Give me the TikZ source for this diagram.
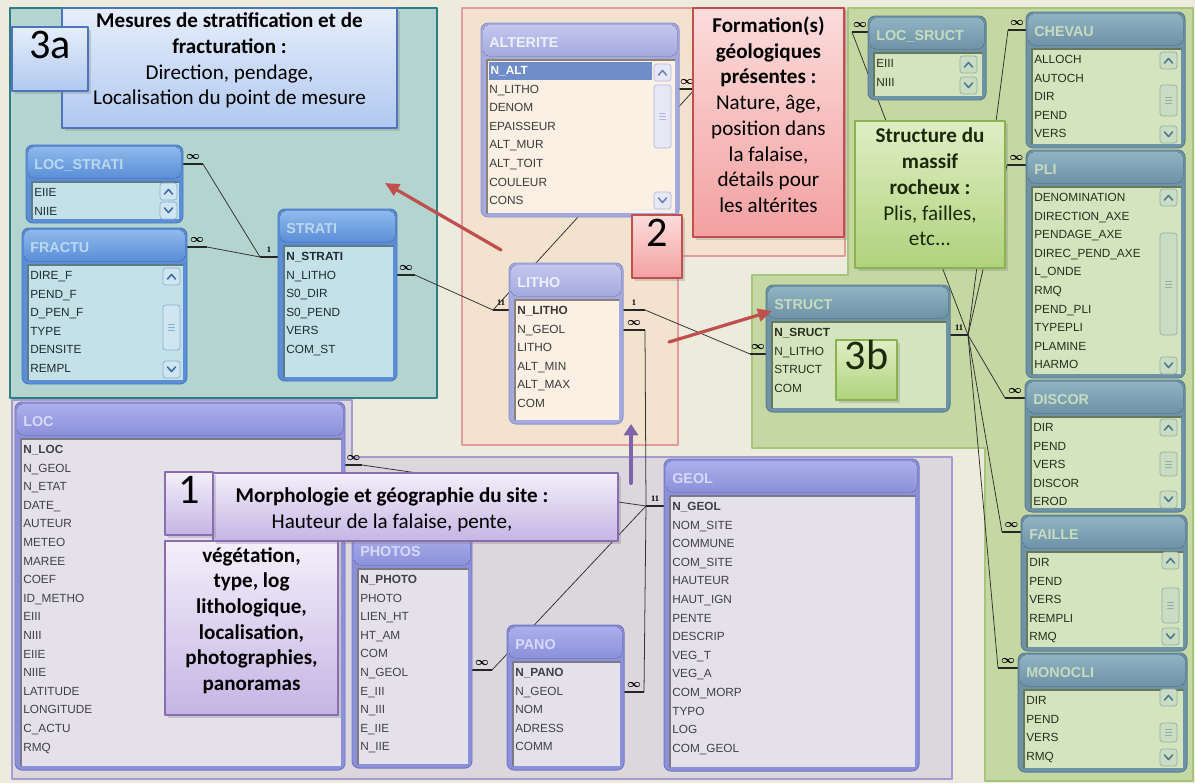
\documentclass[tikz,border=0pt]{standalone}
\usepackage{fontspec}
\setmainfont{Carlito}
\newfontfamily\tabfont{Liberation Sans}
\newfontfamily\lblfont{Liberation Serif}
\usepackage{xcolor}
\usepackage{tikz}
\usetikzlibrary{fit,arrows.meta,shadows}

% zones
\definecolor{bgbeige}{HTML}{EDEBDD}
\definecolor{tlzone}{HTML}{B3D4CF}
\definecolor{tlzoneedge}{HTML}{2E7D87}
\definecolor{pkzone}{HTML}{F2E2CE}
\definecolor{pkzoneedge}{HTML}{E39C9E}
\definecolor{grzone}{HTML}{C5D7A3}
\definecolor{grzoneedge}{HTML}{A5C57A}
\definecolor{puzone}{HTML}{DBD7DC}
\definecolor{puzoneedge}{HTML}{A49CD0}
% tables
\definecolor{tlframe}{HTML}{5B8ED8}
\definecolor{tlhead}{HTML}{8DB9EC}
\definecolor{tledge}{HTML}{4A78BE}
\definecolor{tllist}{HTML}{C3E1E7}
\definecolor{tlinset}{HTML}{5F7C84}
\definecolor{tltitle}{HTML}{BBD9EE}
\definecolor{tltext}{HTML}{1E2C34}
\definecolor{tlbtn}{HTML}{CFE5EF}
\definecolor{tlbtnedge}{HTML}{86B0D6}
\definecolor{tlarrow}{HTML}{3D6CA8}
\definecolor{pkframe}{HTML}{A4A9DE}
\definecolor{pkhead}{HTML}{C3C7EE}
\definecolor{pkedge}{HTML}{8F94CF}
\definecolor{pklist}{HTML}{FCF0E4}
\definecolor{pkinset}{HTML}{8C8275}
\definecolor{pktitle}{HTML}{EEF0FA}
\definecolor{pktext}{HTML}{3A3A3A}
\definecolor{pkbtn}{HTML}{E6E8F5}
\definecolor{pkbtnedge}{HTML}{B3B8DE}
\definecolor{pkarrow}{HTML}{6F7FB8}
\definecolor{pksel}{HTML}{6F8DC8}
\definecolor{grframe}{HTML}{6E93A6}
\definecolor{grhead}{HTML}{8FB3C3}
\definecolor{gredge}{HTML}{5A7E90}
\definecolor{grlist}{HTML}{D4E4BF}
\definecolor{grinset}{HTML}{66795A}
\definecolor{grtitle}{HTML}{C6DCBE}
\definecolor{grtext}{HTML}{26301C}
\definecolor{grbtn}{HTML}{CADDC3}
\definecolor{grbtnedge}{HTML}{8FB0A8}
\definecolor{grarrow}{HTML}{4A7890}
\definecolor{puframe}{HTML}{8C90DA}
\definecolor{puhead}{HTML}{ABAFEB}
\definecolor{puedge}{HTML}{7377C6}
\definecolor{pulist}{HTML}{E5E1E9}
\definecolor{puinset}{HTML}{7A7A82}
\definecolor{putitle}{HTML}{D6DAF6}
\definecolor{putext}{HTML}{404048}
% notes
\definecolor{bluenotetop}{HTML}{E6EEFB}
\definecolor{bluenotebot}{HTML}{B0C8F0}
\definecolor{bluenoteedge}{HTML}{4E74BC}
\definecolor{pinknotetop}{HTML}{FCDCDC}
\definecolor{pinknotebot}{HTML}{F3A0A0}
\definecolor{pinknoteedge}{HTML}{C0504D}
\definecolor{greennotetop}{HTML}{DFEEC4}
\definecolor{greennotebot}{HTML}{B0D27C}
\definecolor{greennoteedge}{HTML}{8AB24E}
\definecolor{purplenotetop}{HTML}{F3EFFA}
\definecolor{purplenotebot}{HTML}{C5B5E4}
\definecolor{purplenoteedge}{HTML}{8A6CB2}
\definecolor{grnotetext}{HTML}{1C2A0C}
\definecolor{arrred}{HTML}{C0504D}
\definecolor{arrpurple}{HTML}{7F63A8}

% table: name, title, x1, y1, x2, y2, scheme, fields
\newcommand{\acctable}[8]{%
  \node[tabframe=#7, fit={(#3,#4) (#5,#6)}] (#1) {};
  \fill[top color=#7head, bottom color=#7frame, rounded corners=4pt] (#3+2,#4+2) rectangle (#5-2,#4+33);
  \fill[#7list] (#3+6,#4+37) rectangle (#5-4,#6-4);
  \draw[#7inset, line width=1.1pt] (#3+6,#6-4) |- (#5-4,#4+37);
  \node[tabtitle=#7, anchor=west] (#1-title) at (#3+8,#4+20) {#2};
  \foreach \f [count=\i from 0] in {#8}
    \node[tabfield=#7, anchor=west] (#1-\i) at (#3+8,#4+48+\i*18.6) {\f};
}
\newcommand{\accscroll}[4]{%
  \draw[sbtn=#1] (#2,#3) rectangle (#2+17,#3+17);
  \draw[sarrow=#1] (#2+4.5,#3+11) -- (#2+8.5,#3+6.5) -- (#2+12.5,#3+11);
  \draw[sbtn=#1] (#2,#4-17) rectangle (#2+17,#4);
  \draw[sarrow=#1] (#2+4.5,#4-11) -- (#2+8.5,#4-6.5) -- (#2+12.5,#4-11);
}
\newcommand{\accthumb}[4]{%
  \draw[sbtn=#1] (#2,#3) rectangle (#2+17,#4);
  \foreach \g in {-3,0,3}
    \draw[#1btnedge, line width=0.4pt] (#2+5.5,{(#3+#4)/2+\g}) -- (#2+11.5,{(#3+#4)/2+\g});
}
% relation end: name, free x, table x, y, label
\newcommand{\relend}[5]{%
  \coordinate (#1) at (#2,#4);
  \draw[relstub] (#2,#4) -- (#3,#4);
  \node[card] (#1-card) at ({(#2+#3)/2},#4-7) {#5};
}
\newcommand{\onelbl}[1]{{\lblfont\bfseries\fontsize{6}{6}\selectfont #1}}
\newcommand{\selrow}[1]{{\setlength{\fboxsep}{1pt}\colorbox{pksel}{\makebox[114pt][l]{\rule[-3.2pt]{0pt}{10.8pt}\color{white}\bfseries #1}}}}

\begin{document}
\begin{tikzpicture}[x=0.025cm, y=-0.025cm, line cap=round, line join=round,
    tabframe/.style={draw=#1edge, fill=#1frame, rounded corners=5pt, inner sep=0pt, line width=0.7pt},
    tabtitle/.style={text=#1title, font=\tabfont\bfseries\fontsize{10.2}{11}\selectfont, inner sep=0pt, text height=8pt, text depth=2pt},
    tabfield/.style={text=#1text, font=\tabfont\fontsize{8.4}{9}\selectfont, inner sep=0pt, text height=7pt, text depth=2pt},
    sbtn/.style={draw=#1btnedge, fill=#1btn, rounded corners=2pt, line width=0.5pt},
    sarrow/.style={draw=#1arrow, line width=1.1pt},
    zone/.style={draw=#1zoneedge, fill=#1zone, line width=1.8pt},
    relline/.style={draw=black!80, line width=0.55pt},
    relstub/.style={draw=black!85, line width=2pt, line cap=butt},
    card/.style={inner sep=0pt, font=\fontsize{8}{8}\selectfont\boldmath},
    note/.style={draw=#1noteedge, top color=#1notetop, bottom color=#1notebot, line width=0.9pt, inner sep=0pt, align=center,
        font=\fontsize{15}{18.3}\selectfont, drop shadow={opacity=0.3, shadow xshift=1.8pt, shadow yshift=-1.8pt}},
    bignum/.style={font=\fontsize{30}{30}\selectfont},
    redarrow/.style={draw=arrred, line width=2.3pt, -{Triangle[length=10pt,width=9pt]}},
    purplearrow/.style={draw=arrpurple, line width=2.8pt, -{Triangle[length=8pt,width=10pt]}}]
    \useasboundingbox (0,0) rectangle (1195,783);

    % Background and zones
    \fill[bgbeige] (0,0) rectangle (1195,783);
    \draw[zone=tl] (10,8) rectangle (437,398);
    \draw[zone=pk] (462,8) -- (845,8) -- (845,256) -- (678,256) -- (678,445) -- (462,445) -- cycle;
    \draw[zone=gr] (848,8) -- (1193,8) -- (1193,781) -- (985,781) -- (985,448) -- (752,448) -- (752,275) -- (848,275) -- cycle;
    \draw[zone=pu] (12,400) -- (352,400) -- (352,457) -- (952,457) -- (952,779) -- (12,779) -- cycle;

    % Relation ends
    \relend{lstr-r}{203}{183}{164}{$\infty$}
    \relend{frac-r}{207}{187}{247}{$\infty$}
    \relend{str-l}{260}{278}{257}{\onelbl{1}}
    \relend{str-r}{415}{397}{275}{$\infty$}
    \relend{lith-l}{493}{509}{310}{\onelbl{11}}
    \relend{alt-r}{695}{679}{89}{$\infty$}
    \relend{lith-r1}{645}{623}{310}{\onelbl{1}}
    \relend{lith-r2}{645}{623}{330}{$\infty$}
    \relend{sct-l}{750}{766}{354}{$\infty$}
    \relend{sct-r}{968}{950}{335}{\onelbl{11}}
    \relend{lsr-l}{852}{868}{32}{$\infty$}
    \relend{chv-l}{1008}{1026}{30}{$\infty$}
    \relend{pli-l}{1007}{1026}{165}{$\infty$}
    \relend{dsc-l}{1005}{1025}{398}{$\infty$}
    \relend{fai-l}{1002}{1021}{532}{$\infty$}
    \relend{mon-l}{998}{1018}{668}{$\infty$}
    \relend{loc-r}{362}{345}{465}{$\infty$}
    \relend{geo-l}{646}{664}{506}{\onelbl{11}}
    \relend{pho-r}{492}{472}{670}{$\infty$}
    \relend{pan-r}{644}{624}{692}{$\infty$}

    % Relations
    \draw[relline] (lstr-r) -- (str-l);
    \draw[relline] (frac-r) -- (str-l);
    \draw[relline] (str-r) -- (lith-l);
    \draw[relline] (alt-r) -- (lith-l);
    \draw[relline] (lith-r1) -- (sct-l);
    \draw[relline] (lith-r2) -- (geo-l);
    \draw[relline] (loc-r) -- (geo-l);
    \draw[relline] (pho-r) -- (geo-l);
    \draw[relline] (pan-r) -- (geo-l);
    \foreach \t in {lsr-l,chv-l,pli-l,dsc-l,fai-l,mon-l}
        \draw[relline] (sct-r) -- (\t);

    % Tables 3a
    \acctable{lstrati}{LOC\_STRATI}{26}{145}{183}{223}{tl}{EIIE,NIIE}
    \accscroll{tl}{160}{183}{219}
    \acctable{fractu}{FRACTU}{22}{228}{187}{384}{tl}{DIRE\_F,PEND\_F,D\_PEN\_F,TYPE,DENSITE,REMPL}
    \accscroll{tl}{163}{268}{378}
    \accthumb{tl}{163}{305}{350}
    \acctable{strati}{STRATI}{278}{209}{397}{381}{tl}{\textbf{N\_STRATI},N\_LITHO,S0\_DIR,S0\_PEND,VERS,COM\_ST}

    % Tables 2
    \acctable{alter}{ALTERITE}{481}{23}{679}{217}{pk}{\selrow{N\_ALT},N\_LITHO,DENOM,EPAISSEUR,ALT\_MUR,ALT\_TOIT,COULEUR,CONS}
    \accscroll{pk}{654}{64}{209}
    \accthumb{pk}{654}{85}{148}
    \acctable{litho}{LITHO}{509}{263}{623}{424}{pk}{\textbf{N\_LITHO},N\_GEOL,LITHO,ALT\_MIN,ALT\_MAX,COM}

    % Tables 3b
    \acctable{lsruct}{LOC\_SRUCT}{868}{16}{986}{100}{gr}{EIII,NIII}
    \accscroll{gr}{960}{56}{94}
    \acctable{chevau}{CHEVAU}{1026}{12}{1185}{148}{gr}{ALLOCH,AUTOCH,DIR,PEND,VERS}
    \accscroll{gr}{1160}{52}{143}
    \accthumb{gr}{1160}{85}{116}
    \acctable{pli}{PLI}{1026}{150}{1185}{378}{gr}{DENOMINATION,DIRECTION\_AXE,PENDAGE\_AXE,DIREC\_PEND\_AXE,L\_ONDE,RMQ,PEND\_PLI,TYPEPLI,PLAMINE,HARMO}
    \accscroll{gr}{1160}{189}{374}
    \accthumb{gr}{1160}{233}{335}
    \acctable{struct}{STRUCT}{766}{285}{950}{412}{gr}{\textbf{N\_SRUCT},N\_LITHO,STRUCT,COM}
    \acctable{discor}{DISCOR}{1025}{380}{1185}{512}{gr}{DIR,PEND,VERS,DISCOR,EROD}
    \accscroll{gr}{1160}{419}{508}
    \accthumb{gr}{1160}{452}{476}
    \acctable{faille}{FAILLE}{1021}{515}{1187}{651}{gr}{DIR,PEND,VERS,REMPLI,RMQ}
    \accscroll{gr}{1162}{552}{645}
    \accthumb{gr}{1162}{588}{623}
    \acctable{monocli}{MONOCLI}{1018}{653}{1187}{772}{gr}{DIR,PEND,VERS,RMQ}
    \accscroll{gr}{1160}{689}{766}
    \accthumb{gr}{1160}{723}{742}

    % Tables 1
    \acctable{loc}{LOC}{15}{402}{345}{770}{pu}{\textbf{N\_LOC},N\_GEOL,N\_ETAT,DATE\_,AUTEUR,METEO,MAREE,COEF,ID\_METHO,EIII,NIII,EIIE,NIIE,LATITUDE,LONGITUDE,C\_ACTU,RMQ}
    \acctable{photos}{PHOTOS}{352}{532}{472}{768}{pu}{\textbf{N\_PHOTO},PHOTO,LIEN\_HT,HT\_AM,COM,N\_GEOL,E\_III,N\_III,E\_IIE,N\_IIE}
    \acctable{pano}{PANO}{507}{625}{624}{770}{pu}{\textbf{N\_PANO},N\_GEOL,NOM,ADRESS,COMM}
    \acctable{geol}{GEOL}{664}{459}{919}{771}{pu}{\textbf{N\_GEOL},NOM\_SITE,COMMUNE,COM\_SITE,HAUTEUR,HAUT\_IGN,PENTE,DESCRIP,VEG\_T,VEG\_A,COM\_MORP,TYPO,LOG,COM\_GEOL}

    % Notes
    \node[note=blue, fit={(62,8) (397,128)}] (note3a) {\textbf{Mesures de stratification et de}\\ \textbf{fracturation :}\\ Direction, pendage,\\ Localisation du point de mesure};
    \node[note=blue, bignum, fit={(12,27) (88,91)}] (num3a) {3a};
    \node[note=pink, fit={(693,8) (844,237)}] (note2) {\textbf{Formation(s)}\\ \textbf{géologiques}\\ \textbf{présentes :}\\ Nature, âge,\\ position dans\\ la falaise,\\ détails pour\\ les altérites};
    \node[note=pink, bignum, fit={(632,215) (682,278)}] (num2) {2};
    \node[note=green, text=grnotetext, fit={(855,121) (1005,268)}] (note3b) {\textbf{Structure du}\\ \textbf{massif}\\ \textbf{rocheux :}\\ Plis, failles,\\ etc...};
    \node[note=green, bignum, text=grnotetext, fit={(836,340) (897,400)}] (num3b) {3b};
    \node[note=purple, fit={(165,541) (338,715)}] (note1b) {\textbf{végétation,}\\ \textbf{type, log}\\ \textbf{lithologique,}\\ \textbf{localisation,}\\ \textbf{photographies,}\\ \textbf{panoramas}};
    \node[note=purple, fit={(213,473) (618,541)}] (note1) {};
    \node[align=center, inner sep=0pt, font=\fontsize{15}{18.3}\selectfont] (note1-txt) at (392,510) {\textbf{Morphologie et géographie du site :}\\ Hauteur de la falaise, pente,};
    \node[note=purple, bignum, fit={(165,472) (213,535)}] (num1) {1};

    % Arrows
    \coordinate (arr3a-s) at (501,250);
    \coordinate (arr3a-e) at (385,183);
    \coordinate (arr3b-s) at (669,342);
    \coordinate (arr3b-e) at (772,311);
    \coordinate (arr1-s) at (631,483);
    \coordinate (arr1-e) at (631,424);
    \draw[redarrow] (arr3a-s) -- (arr3a-e);
    \draw[redarrow] (arr3b-s) -- (arr3b-e);
    \draw[purplearrow] (arr1-s) -- (arr1-e);
\end{tikzpicture}
\end{document}
